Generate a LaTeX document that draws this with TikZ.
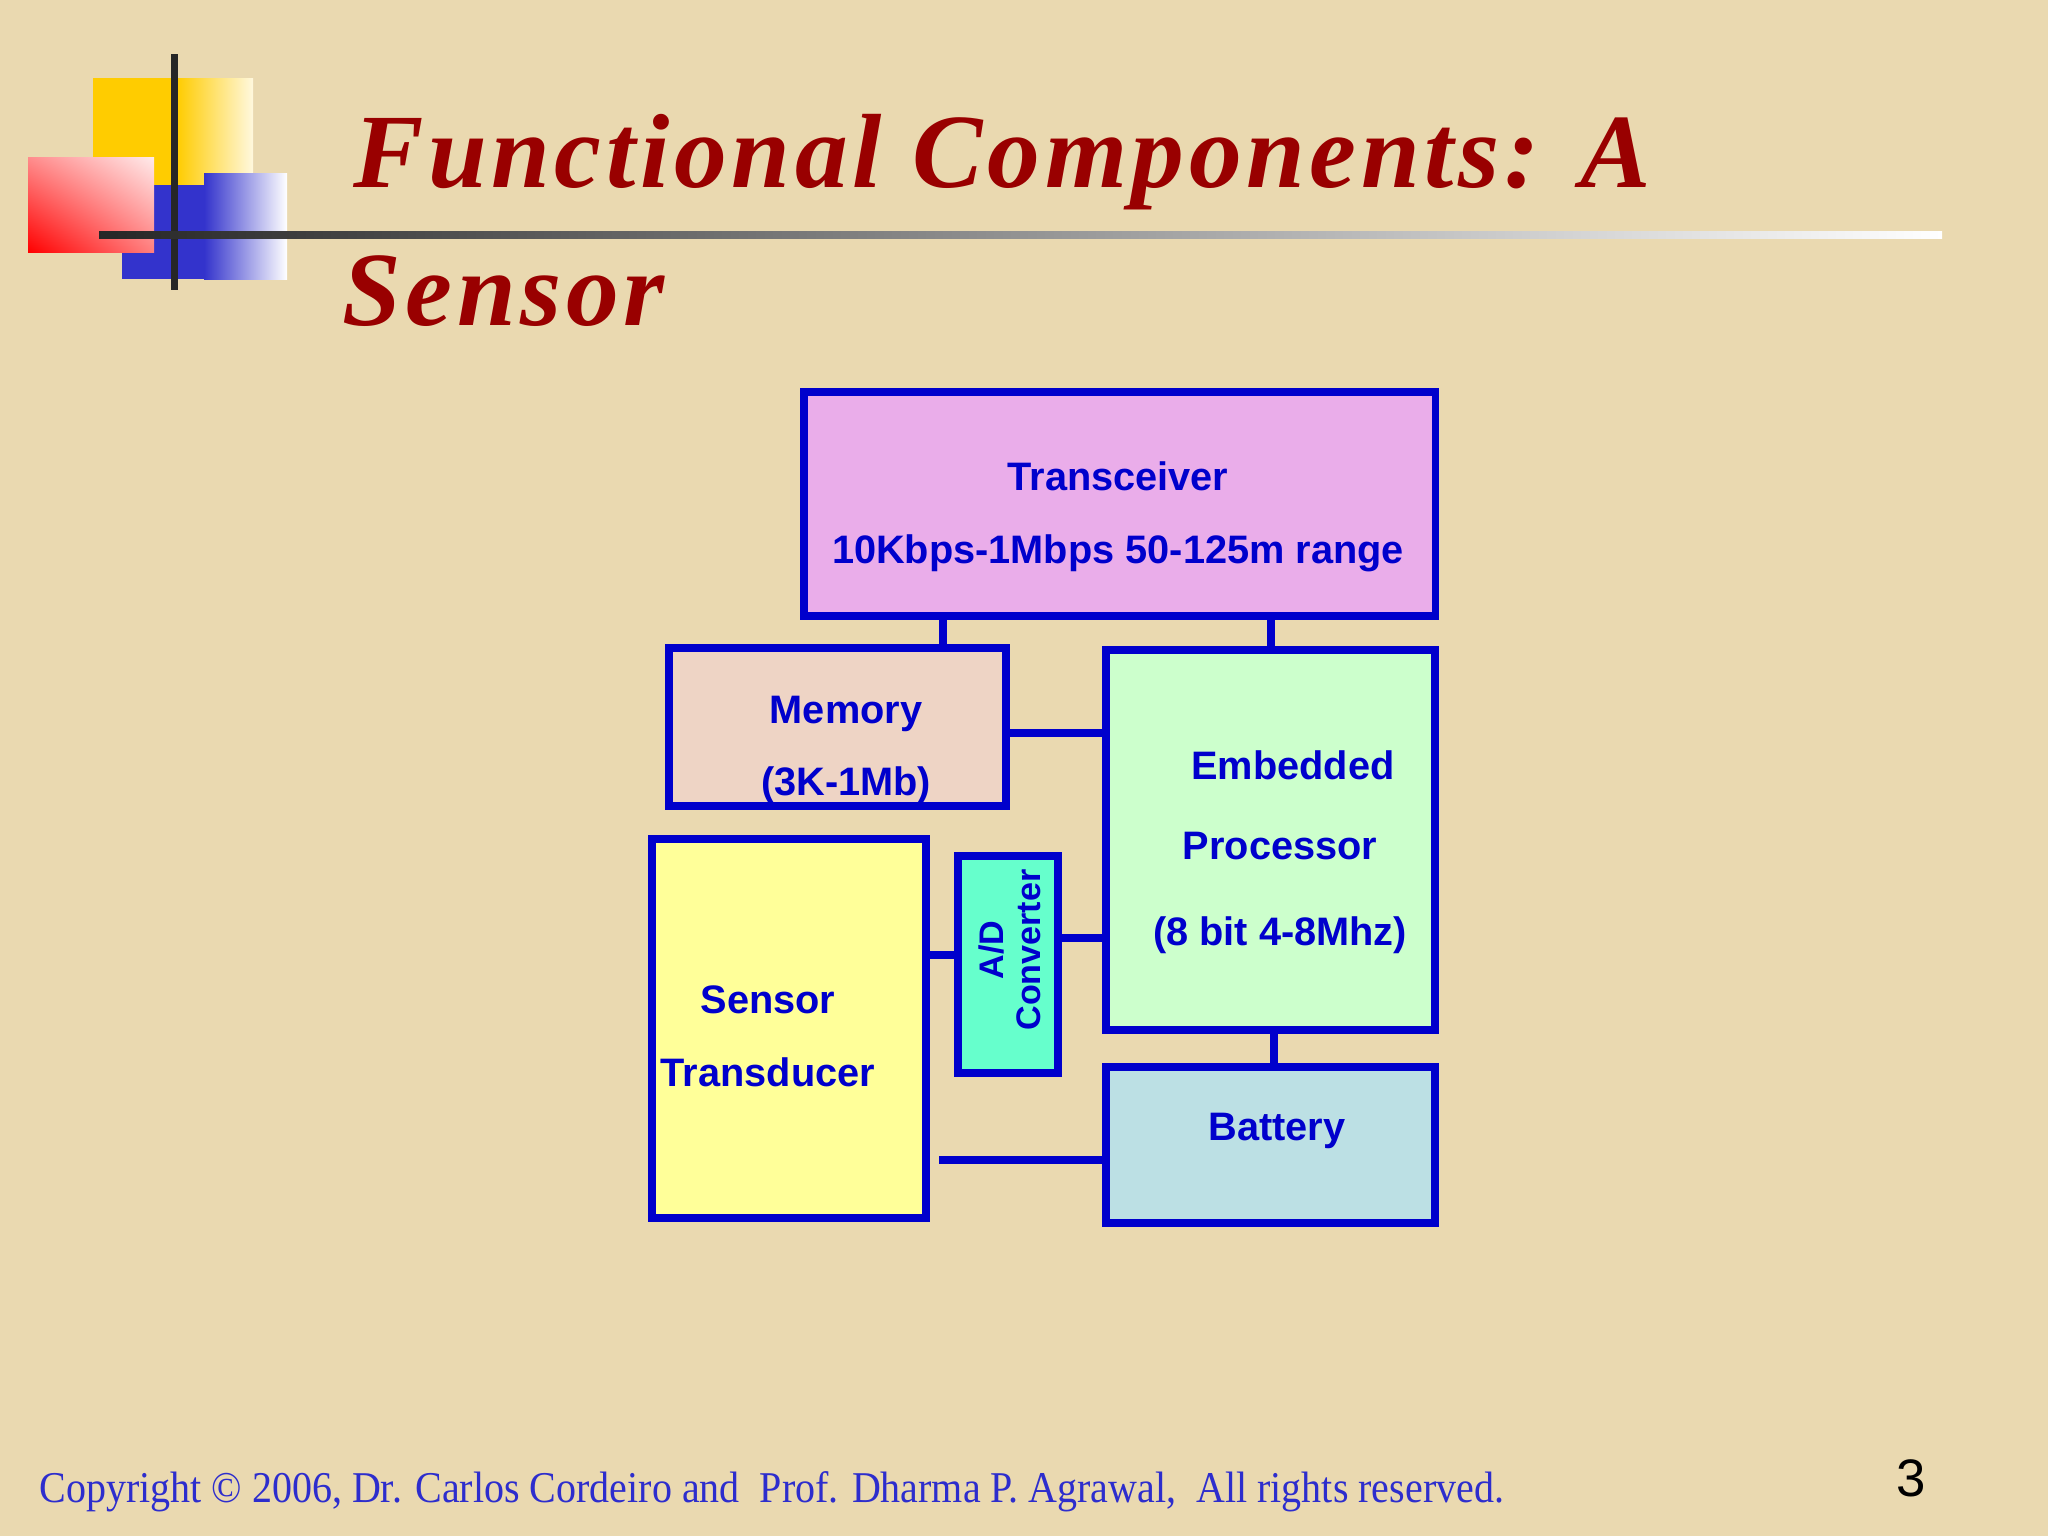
\documentclass[tikz,border=0pt]{standalone}
\usepackage{fontspec}
\usetikzlibrary{shadings}
\setmainfont{Liberation Serif}
\newfontfamily\boxfont{Liberation Sans}
\newfontfamily\titlefont[LetterSpace=4.4]{Liberation Serif}
\newfontfamily\footfont[FakeStretch=0.91]{Liberation Serif}
\definecolor{parch}{RGB}{234,217,176}
\definecolor{slideblue}{RGB}{0,0,204}
\definecolor{titlered}{RGB}{153,0,0}
\definecolor{footblue}{RGB}{45,45,205}
\definecolor{trxfill}{RGB}{234,173,234}
\definecolor{memfill}{RGB}{238,212,197}
\definecolor{cpufill}{RGB}{204,255,204}
\definecolor{senfill}{RGB}{255,255,153}
\definecolor{adcfill}{RGB}{102,255,204}
\definecolor{batfill}{RGB}{188,224,228}
\definecolor{logogold}{RGB}{255,204,0}
\definecolor{logocream}{RGB}{255,248,222}
\definecolor{logoblue}{RGB}{51,51,204}
\begin{document}
\begin{tikzpicture}[
    x=0.01cm, y=-0.01cm,
    unit/.style={rectangle, draw=slideblue, line width=2.1pt},
    tag/.style={text=slideblue, align=center, inner sep=0pt, font=\boxfont\bfseries\fontsize{11.3}{20.7}\selectfont},
    wire/.style={draw=slideblue, line width=2.1pt},
    heading/.style={anchor=base west, text=titlered, font=\titlefont\bfseries\itshape\fontsize{30}{36}\selectfont}
]
  % slide background
  \fill[parch] (0,0) rectangle (2048,1536);
  \useasboundingbox (0,0) rectangle (2048,1536);
  % corner logo
  \fill[logogold] (93,78) rectangle (178,185);
  \shade[left color=logogold, right color=logocream] (177,78) rectangle (253,185);
  \fill[logoblue] (122,185) rectangle (205,279);
  \shade[left color=logoblue, right color=white] (204,173) rectangle (287,279);
  \shade[lower left=red, upper right=red!8, upper left=red!45, lower right=red!50] (28,157) rectangle (154,252);
  \fill[black!85] (170.5,54) rectangle (177.5,290);
  \shade[left color=black!85, right color=white] (99,231.5) rectangle (1942,238.5);
  % title
  \node[heading] (title) at (341,187) {Functional Components: A};
  \node[heading] (title2) at (330,325) {Sensor};
  % blocks
  \node[unit, fill=trxfill, minimum width=6.31cm, minimum height=2.24cm] (trx) at (1119.5,504) {};
  \node[unit, fill=memfill, minimum width=3.37cm, minimum height=1.58cm] (mem) at (837.5,727) {};
  \node[unit, fill=cpufill, minimum width=3.29cm, minimum height=3.8cm] (cpu) at (1270.5,840) {};
  \node[unit, fill=senfill, minimum width=2.74cm, minimum height=3.79cm] (sen) at (789,1028.5) {};
  \node[unit, fill=adcfill, minimum width=1.0cm, minimum height=2.17cm] (adc) at (1008,964.5) {};
  \node[unit, fill=batfill, minimum width=3.29cm, minimum height=1.56cm] (bat) at (1270.5,1145) {};
  % texts
  \node[tag] (trx-t) at ([xshift=-0.015cm, yshift=-0.13cm]trx.center) {Transceiver\\10Kbps-1Mbps 50-125m range};
  \node[tag] (mem-t) at ([xshift=0.085cm, yshift=-0.23cm]mem.center) {Memory\\(3K-1Mb)};
  \node[tag] (cpu-t) at ([xshift=0.095cm, yshift=-0.12cm]cpu.center) {\hspace*{0.26cm}Embedded\\[2pt]Processor\\[3.7pt](8 bit 4-8Mhz)};
  \node[tag] (sen-t) at ([xshift=-0.21cm, yshift=-0.075cm]sen.center) {Sensor\\Transducer};
  \node[tag] (adc-t) at ([xshift=0.07cm, yshift=0.145cm]adc.center) {\rotatebox{90}{\fontsize{9.7}{10.5}\selectfont\begin{tabular}{@{}c@{}}A/D\\Converter\end{tabular}}};
  \node[tag] (bat-t) at ([xshift=0.065cm, yshift=0.14cm]bat.center) {Battery};
  % links
  \draw[wire] (trx.south -| 943,0) -- (mem.north -| 943,0);
  \draw[wire] (trx.south -| 1271,0) -- (cpu.north -| 1271,0);
  \draw[wire] (mem.east |- 0,733) -- (cpu.west |- 0,733);
  \draw[wire] (sen.east |- 0,955) -- (adc.west |- 0,955);
  \draw[wire] (adc.east |- 0,938) -- (cpu.west |- 0,938);
  \draw[wire] (cpu.south -| 1274,0) -- (bat.north -| 1274,0);
  \coordinate (feed) at (939,1160);
  \draw[wire] (feed) -- (bat.west |- feed);
  % footer
  \node[anchor=base west, text=footblue, font=\footfont\fontsize{12.5}{15}\selectfont] (copy) at (27,1502) {Copyright © 2006, Dr. Carlos Cordeiro and\ \ Prof. Dharma P. Agrawal,\ \ All rights reserved.};
  \node[font=\boxfont\fontsize{15}{18}\selectfont] (pgno) at (1911,1478) {3};
\end{tikzpicture}
\end{document}
